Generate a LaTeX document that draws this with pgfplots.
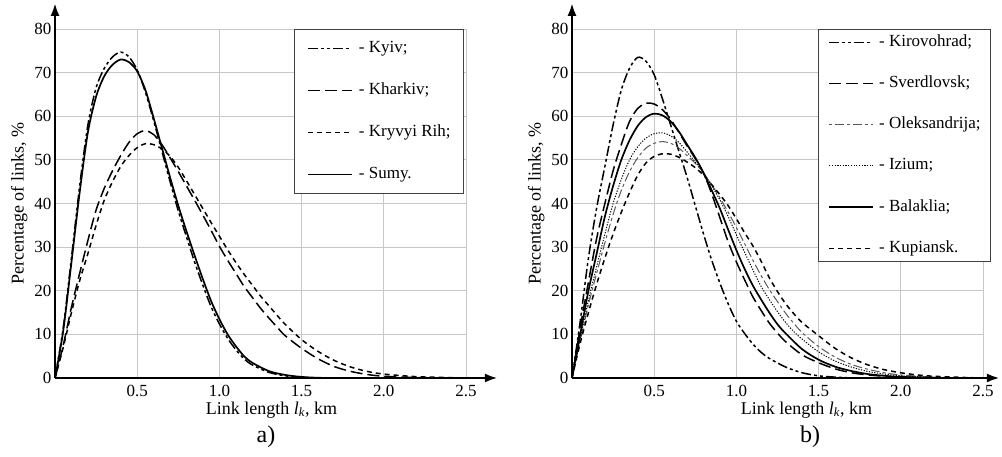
\documentclass[border=0pt]{standalone}
\usepackage{fontspec}
\setmainfont{Liberation Serif}
\usepackage{pgfplots}
\pgfplotsset{compat=1.18}
\usetikzlibrary{arrows.meta}

\pgfplotsset{
  panel/.style={
    scale only axis, width=411pt, height=349pt,
    xmin=0, xmax=2.5, ymin=0, ymax=80,
    axis lines*=left, axis line style={draw=none},
    major tick length=0pt,
    xtick={0.5,1,1.5,2,2.5}, xticklabels={0.5,1.0,1.5,2.0,2.5},
    ytick={0,10,...,80},
    grid=major, grid style={color=black!22, line width=0.9pt},
    clip=false,
    /pgf/number format/assume math mode=true,
    tick label style={font=\fontsize{17}{19}\selectfont},
    label style={font=\fontsize{18}{20}\selectfont},
    xticklabel style={yshift=-4pt},
    ylabel={Percentage of links, \%},
    xlabel={Link length \textit{l}\textsubscript{\textit{k}}, km},
    legend cell align=left,
    legend image code/.code={\draw[##1] (0pt,0pt) -- (44pt,0pt);},
  },
  ddot/.style={black, line width=1.5pt, dash pattern=on 10pt off 3pt on 3pt off 3pt on 3pt off 3pt},
  ldash/.style={black, line width=1.5pt, dash pattern=on 12pt off 5pt},
  sdash/.style={black, line width=1.5pt, dash pattern=on 5pt off 4pt},
  solidl/.style={black, line width=1.7pt},
  dashdot/.style={black!65, line width=1pt, dash pattern=on 3pt off 3pt on 9pt off 3pt},
  dotl/.style={black, line width=1pt, dash pattern=on 1.2pt off 1.5pt},
}

\begin{document}
\begin{tikzpicture}
\useasboundingbox (0,0) rectangle (1002pt,457pt);

\begin{axis}[panel, at={(55pt,79pt)}, anchor=south west,
  xlabel style={at={(rel axis cs:0.5,0)}, anchor=north, yshift=-20pt, xshift=11pt},
  legend style={at={(rel axis cs:0.995,1)}, anchor=north east,
    draw=black!75, line width=0.8pt, fill=white,
    font=\fontsize{17}{19}\selectfont,
    inner xsep=13pt, inner ysep=11pt, row sep=26pt, column sep=6pt,
    nodes={inner sep=0pt, text height=12pt, text depth=4pt}}]
\addplot[ddot, smooth] coordinates {(0,0) (0.05,11.5) (0.1,27.5) (0.15,44) (0.2,58) (0.25,66.5) (0.3,71) (0.35,73.6) (0.4,74.7) (0.45,73.6) (0.5,70.6) (0.55,65.5) (0.6,59) (0.65,52) (0.7,45) (0.75,38.3) (0.8,32.3) (0.85,26.5) (0.9,21.2) (0.95,16.3) (1,12.4) (1.05,9.1) (1.1,6.5) (1.15,4.4) (1.2,3) (1.3,1.3) (1.4,0.5) (1.5,0.15) (1.6,0)};
\addlegendentry{- Kyiv;}
\addplot[ldash, smooth] coordinates {(0,0) (0.05,7.5) (0.1,16.2) (0.15,24) (0.2,31.5) (0.25,38.5) (0.3,43.5) (0.35,47.5) (0.4,51) (0.45,54) (0.5,56) (0.55,56.7) (0.6,55.8) (0.65,53.5) (0.7,50.5) (0.75,47.3) (0.8,44) (0.85,40.7) (0.9,37.3) (0.95,33.8) (1,30.2) (1.05,27) (1.1,24) (1.15,21) (1.2,18.5) (1.25,16) (1.3,13.8) (1.35,11.7) (1.4,9.7) (1.5,6.8) (1.6,4.4) (1.7,2.6) (1.8,1.5) (1.9,0.8) (2,0.4) (2.2,0.1) (2.4,0)};
\addlegendentry{- Kharkiv;}
\addplot[sdash, smooth] coordinates {(0,0) (0.05,7) (0.1,15) (0.15,22.3) (0.2,28.5) (0.25,35) (0.3,40.8) (0.35,45) (0.4,48.5) (0.45,51) (0.5,52.8) (0.55,53.7) (0.6,53.5) (0.65,52.5) (0.7,50.8) (0.75,48.3) (0.8,45.2) (0.85,42) (0.9,38.8) (0.95,35.6) (1,32.5) (1.05,29.4) (1.1,26.5) (1.15,23.8) (1.2,21.3) (1.25,18.8) (1.3,16.6) (1.35,14.4) (1.4,12.3) (1.5,8.8) (1.6,6.1) (1.7,4) (1.8,2.5) (1.9,1.5) (2,0.9) (2.2,0.3) (2.4,0.1) (2.5,0)};
\addlegendentry{- Kryvyi Rih;}
\addplot[solidl, smooth] coordinates {(0,0) (0.05,10.8) (0.1,26.5) (0.15,42.5) (0.2,56.3) (0.25,64.5) (0.3,69.2) (0.35,71.8) (0.4,73) (0.45,72.4) (0.5,70.3) (0.55,66) (0.6,59.6) (0.65,52.8) (0.7,46) (0.75,39.5) (0.8,33.6) (0.85,28) (0.9,22.6) (0.95,17.6) (1,13.5) (1.05,10) (1.1,7.3) (1.15,5) (1.2,3.5) (1.3,1.6) (1.4,0.7) (1.5,0.25) (1.6,0.05) (1.7,0)};
\addlegendentry{- Sumy.}
\draw[black, line width=2.6pt, -{Latex[length=13pt,width=9pt]}] (axis cs:0,0) -- (axis cs:2.694,0);
\draw[black, line width=2.6pt, -{Latex[length=13pt,width=9pt]}] (axis cs:0,0) -- (axis cs:0,86);
\end{axis}

\begin{axis}[panel, at={(572pt,79pt)}, anchor=south west,
  xlabel style={at={(rel axis cs:0.5,0)}, anchor=north, yshift=-20pt, xshift=29pt},
  legend style={at={(rel axis cs:1.0195,1)}, anchor=north east,
    draw=black!75, line width=0.8pt, fill=white,
    font=\fontsize{17}{19}\selectfont,
    inner xsep=10pt, inner ysep=5pt, row sep=25.2pt, column sep=5pt,
    nodes={inner sep=0pt, text height=12pt, text depth=4pt}}]
\addplot[ddot, smooth] coordinates {(0,0) (0.05,13) (0.1,27.5) (0.15,39) (0.2,48.5) (0.25,58) (0.3,66) (0.35,71) (0.4,73.5) (0.45,72.6) (0.5,69.5) (0.55,64) (0.6,58) (0.65,52) (0.7,46) (0.75,39.5) (0.8,33) (0.85,27) (0.9,21.7) (0.95,17) (1,13) (1.05,10.2) (1.1,7.8) (1.15,5.9) (1.2,4.5) (1.3,2.5) (1.4,1.2) (1.5,0.5) (1.6,0.2) (1.7,0)};
\addlegendentry{- Kirovohrad;}
\addplot[ldash, smooth] coordinates {(0,0) (0.05,11.5) (0.1,22) (0.15,32) (0.2,40) (0.25,47.5) (0.3,53.5) (0.35,58.8) (0.4,61.8) (0.45,63) (0.5,62.8) (0.55,61.5) (0.6,59.3) (0.65,56.3) (0.7,53.2) (0.75,50.3) (0.8,47) (0.85,42.2) (0.9,36.7) (0.95,31.2) (1,26.6) (1.05,22.5) (1.1,18.6) (1.15,15.5) (1.2,12.6) (1.25,10.3) (1.3,8.3) (1.4,5.3) (1.5,3.5) (1.6,2.1) (1.7,1.2) (1.8,0.7) (1.9,0.4) (2,0.2) (2.2,0)};
\addlegendentry{- Sverdlovsk;}
\addplot[dashdot, smooth] coordinates {(0,0) (0.05,8.5) (0.1,16.8) (0.15,24) (0.2,31) (0.25,37.5) (0.3,43) (0.35,47.3) (0.4,50.5) (0.45,52.7) (0.5,53.8) (0.55,54.2) (0.6,53.8) (0.65,52.7) (0.7,51) (0.75,49.2) (0.8,47) (0.85,44.3) (0.9,41.3) (0.95,38) (1,34.5) (1.05,30.8) (1.1,27) (1.15,23.5) (1.2,20.3) (1.25,17.5) (1.3,14.8) (1.35,12.5) (1.4,10.4) (1.5,7.2) (1.6,4.8) (1.7,3.1) (1.8,2) (1.9,1.2) (2,0.7) (2.2,0.2) (2.4,0)};
\addlegendentry{- Oleksandrija;}
\addplot[dotl, smooth] coordinates {(0,0) (0.05,9) (0.1,17.8) (0.15,25.5) (0.2,33) (0.25,40) (0.3,45.5) (0.35,50) (0.4,53) (0.45,55) (0.5,56) (0.55,56.2) (0.6,55.5) (0.65,54) (0.7,51.8) (0.75,49.5) (0.8,47) (0.85,44) (0.9,40.8) (0.95,37) (1,32.8) (1.05,28.8) (1.1,24.8) (1.15,21) (1.2,18) (1.25,15.2) (1.3,12.7) (1.35,10.6) (1.4,8.9) (1.5,6) (1.6,3.9) (1.7,2.5) (1.8,1.5) (1.9,0.9) (2,0.5) (2.2,0.15) (2.4,0)};
\addlegendentry{- Izium;}
\addplot[solidl, smooth] coordinates {(0,0) (0.05,10) (0.1,20) (0.15,28.5) (0.2,37) (0.25,44) (0.3,50) (0.35,54.5) (0.4,57.8) (0.45,59.8) (0.5,60.6) (0.55,60.2) (0.6,58.8) (0.65,56.5) (0.7,53.5) (0.75,50.5) (0.8,47) (0.85,43) (0.9,38.8) (0.95,34) (1,29.3) (1.05,25) (1.1,21.2) (1.15,18) (1.2,15) (1.25,12.3) (1.3,10.2) (1.4,6.6) (1.5,4.2) (1.6,2.6) (1.7,1.6) (1.8,0.9) (1.9,0.5) (2,0.25) (2.2,0.05) (2.3,0)};
\addlegendentry{- Balaklia;}
\addplot[sdash, smooth] coordinates {(0,0) (0.05,8) (0.1,15) (0.15,21.5) (0.2,27.5) (0.25,33) (0.3,38) (0.35,42.5) (0.4,46.5) (0.45,49.3) (0.5,50.8) (0.55,51.4) (0.6,51.3) (0.65,50.6) (0.7,49.5) (0.75,48.2) (0.8,46.5) (0.85,44.3) (0.9,42) (0.95,39.5) (1,36.5) (1.05,33.3) (1.1,30.3) (1.15,26.8) (1.2,23) (1.25,19.8) (1.3,17) (1.35,14.7) (1.4,12.7) (1.5,9.7) (1.6,6.8) (1.7,4.6) (1.8,3) (1.9,1.9) (2,1.2) (2.1,0.7) (2.2,0.4) (2.4,0.1) (2.5,0)};
\addlegendentry{- Kupiansk.}
\draw[black, line width=2.6pt, -{Latex[length=13pt,width=9pt]}] (axis cs:0,0) -- (axis cs:2.603,0);
\draw[black, line width=2.6pt, -{Latex[length=13pt,width=9pt]}] (axis cs:0,0) -- (axis cs:0,86);
\end{axis}

\node[font=\fontsize{24}{28}\selectfont] at (266pt,20pt) {a)};
\node[font=\fontsize{24}{28}\selectfont] at (810pt,20pt) {b)};
\end{tikzpicture}
\end{document}
